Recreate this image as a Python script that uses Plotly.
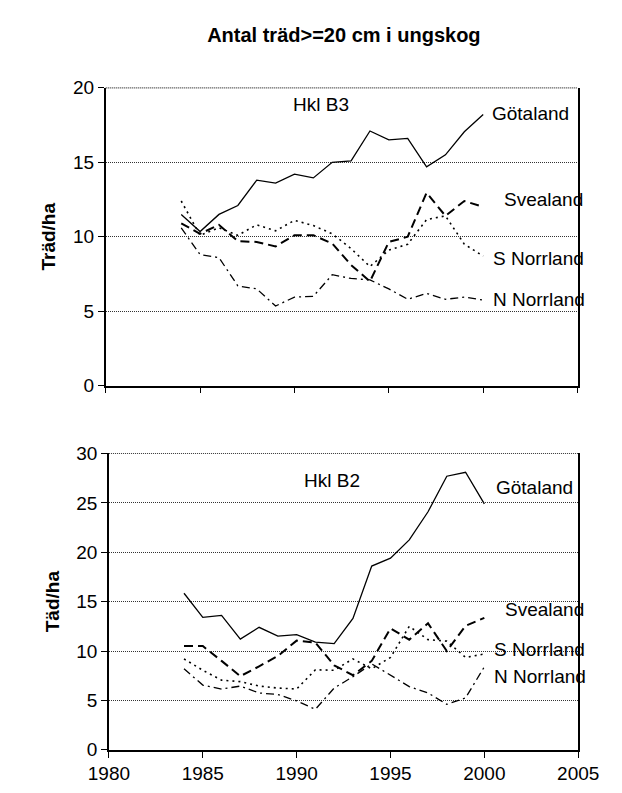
import plotly.graph_objects as go

years = list(range(1984, 2001))

# Hkl B3 (upper panel)
b3_gotaland = [11.5, 10.35, 11.5, 12.1, 13.8, 13.6, 14.2, 13.95, 15.0, 15.1, 17.1, 16.5, 16.6, 14.7, 15.5, 17.05, 18.2]
b3_svealand = [10.9, 10.2, 10.8, 9.7, 9.65, 9.35, 10.1, 10.1, 9.55, 8.1, 7.0, 9.65, 10.0, 12.95, 11.4, 12.4, 12.0]
b3_s_norrland = [12.4, 10.1, 10.6, 10.1, 10.8, 10.4, 11.1, 10.75, 10.2, 9.2, 8.0, 9.1, 9.5, 11.15, 11.4, 9.5, 8.7]
b3_n_norrland = [10.6, 8.8, 8.6, 6.7, 6.5, 5.35, 5.95, 6.0, 7.45, 7.2, 7.1, 6.5, 5.8, 6.2, 5.8, 5.95, 5.75]

# Hkl B2 (lower panel)
b2_gotaland = [15.85, 13.4, 13.6, 11.2, 12.4, 11.5, 11.65, 10.9, 10.75, 13.3, 18.6, 19.4, 21.25, 24.1, 27.7, 28.1, 24.9]
b2_svealand = [10.5, 10.5, 9.0, 7.45, 8.45, 9.5, 11.05, 10.85, 8.55, 7.55, 9.0, 12.3, 11.15, 12.8, 10.0, 12.55, 13.35]
b2_s_norrland = [9.2, 8.05, 7.05, 6.9, 6.45, 6.25, 6.15, 8.1, 8.05, 9.2, 8.2, 9.35, 12.5, 11.15, 11.0, 9.35, 9.7]
b2_n_norrland = [8.2, 6.55, 6.15, 6.45, 5.75, 5.6, 4.95, 4.1, 6.25, 7.4, 8.7, 7.55, 6.4, 5.75, 4.6, 5.25, 8.4]

regions = ["Götaland", "Svealand", "S Norrland", "N Norrland"]
styles = {
    "Götaland": dict(color="black", width=1.3, dash="solid"),
    "Svealand": dict(color="black", width=2, dash="9px,5px"),
    "S Norrland": dict(color="black", width=1.6, dash="2px,4px"),
    "N Norrland": dict(color="black", width=1.3, dash="8px,4px,2px,4px"),
}

# label positions (year, value) at right end of the lines
top_labels = {"Götaland": (2000.35, 18.3), "Svealand": (2001.0, 12.5),
              "S Norrland": (2000.4, 8.55), "N Norrland": (2000.4, 5.8)}
bottom_labels = {"Götaland": (2000.5, 26.6), "Svealand": (2001.0, 14.2),
                 "S Norrland": (2000.4, 10.2), "N Norrland": (2000.4, 7.4)}

font = "Liberation Sans, Arial, sans-serif"

fig = go.Figure()
top_series = [b3_gotaland, b3_svealand, b3_s_norrland, b3_n_norrland]
bottom_series = [b2_gotaland, b2_svealand, b2_s_norrland, b2_n_norrland]
for name, vals in zip(regions, top_series):
    fig.add_trace(go.Scatter(x=years, y=vals, mode="lines", name=name,
                             line=styles[name], xaxis="x", yaxis="y", showlegend=False))
for name, vals in zip(regions, bottom_series):
    fig.add_trace(go.Scatter(x=years, y=vals, mode="lines", name=name,
                             line=styles[name], xaxis="x2", yaxis="y2", showlegend=False))

annotations = []
for name in regions:
    lx, ly = top_labels[name]
    annotations.append(dict(x=lx, y=ly, xref="x", yref="y", text=name, showarrow=False,
                            xanchor="left", yanchor="middle", font=dict(size=19, family=font, color="black")))
    lx, ly = bottom_labels[name]
    annotations.append(dict(x=lx, y=ly, xref="x2", yref="y2", text=name, showarrow=False,
                            xanchor="left", yanchor="middle", font=dict(size=19, family=font, color="black")))
annotations.append(dict(x=1991.4, y=18.85, xref="x", yref="y", text="Hkl B3", showarrow=False,
                        font=dict(size=19, family=font, color="black")))
annotations.append(dict(x=1991.9, y=27.25, xref="x2", yref="y2", text="Hkl B2", showarrow=False,
                        font=dict(size=19, family=font, color="black")))

# dotted top border of each plot area (gridline at the axis maximum)
shapes = []
for xr, yr in [("x domain", "y domain"), ("x2 domain", "y2 domain")]:
    shapes.append(dict(type="line", xref=xr, yref=yr, x0=0, x1=1, y0=1, y1=1,
                       line=dict(color="#333333", width=1.2, dash="1px,1px")))

xcommon = dict(range=[1980, 2005], dtick=5, tick0=1980, showgrid=False, zeroline=False,
               showline=True, linecolor="black", linewidth=1.5, ticks="outside", ticklen=6,
               tickcolor="black", tickfont=dict(size=19, family=font, color="black"))
ycommon = dict(dtick=5, showgrid=True, gridcolor="#333333", griddash="1px,1px", gridwidth=1,
               zeroline=False, showline=True, mirror=True, linecolor="black", linewidth=1.5,
               ticks="outside", ticklen=6, tickcolor="black",
               tickfont=dict(size=19, family=font, color="black"))

fig.update_layout(
    width=622, height=793,
    margin=dict(l=0, r=0, t=0, b=0),
    paper_bgcolor="white", plot_bgcolor="white",
    title=dict(text="<b>Antal träd>=20 cm i ungskog</b>", x=0.54, xanchor="center",
               y=0.966, yanchor="middle", font=dict(size=20, family=font, color="black")),
    xaxis=dict(xcommon, domain=[0.1323, 0.9458], anchor="y", showticklabels=False),
    yaxis=dict(ycommon, domain=[0.5237, 0.9096], range=[0, 20], anchor="x",
               title=dict(text="<b>Träd/ha</b>", standoff=12, font=dict(size=19, family=font, color="black"))),
    xaxis2=dict(xcommon, domain=[0.1378, 0.9469], anchor="y2"),
    yaxis2=dict(ycommon, domain=[0.0521, 0.4359], range=[0, 30], anchor="x2",
                title=dict(text="<b>Täd/ha</b>", standoff=12, font=dict(size=19, family=font, color="black"))),
    annotations=annotations,
    shapes=shapes,
)

fig.write_html("out.html")
